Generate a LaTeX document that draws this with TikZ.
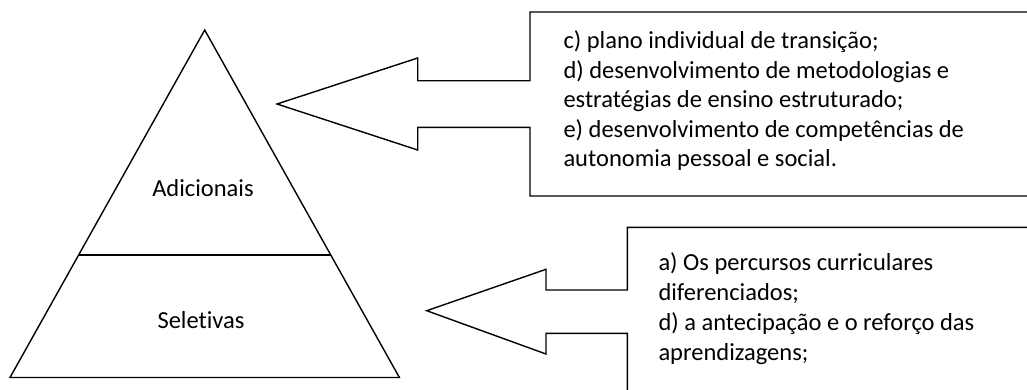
\documentclass[tikz,border=0pt]{standalone}
\usepackage{fontspec}
\setmainfont[Ligatures=NoCommon]{Carlito}
\usetikzlibrary{calc}
\begin{document}
\begin{tikzpicture}[x=1pt,y=-1pt,
  shapeline/.style={draw=black,line width=1.4pt,line join=miter},
  boxtext/.style={anchor=base west,inner sep=0pt,font=\fontsize{24.5}{29.5}\selectfont},
  pyrlabel/.style={anchor=base,inner sep=0pt,font=\fontsize{24.5}{29.5}\selectfont}]
\useasboundingbox (0,0) rectangle (1027,389);
\clip (0,0) rectangle (1027,389);
\fill[white] (0,0) rectangle (1027,389);
% pyramid
\coordinate (apex) at (204.7,30);
\coordinate (bl) at (10,377.5);
\coordinate (br) at (399.4,377.5);
\coordinate (ml) at ($(apex)!0.6475!(bl)$);
\coordinate (mr) at ($(apex)!0.6475!(br)$);
\draw[shapeline] (apex) -- (bl) -- (br) -- cycle;
\draw[shapeline] (ml) -- (mr);
\node[pyrlabel] (adic) at (203,196.5) {Adicionais};
\node[pyrlabel] (selet) at (201,328) {Seletivas};
% top callout
\draw[shapeline] (1040,12) -- (530,12) -- (530,80.7) -- (417.7,80.7) -- (417.7,58)
  -- (277,104) -- (417.7,150) -- (417.7,127.3) -- (530,127.3) -- (530,196) -- (1040,196);
\node[boxtext] (t1) at (563.3,48.3) {c) plano individual de transição;};
\node[boxtext] (t2) at (563.3,78.1) {d) desenvolvimento de metodologias e};
\node[boxtext] (t3) at (563.3,107.6) {estratégias de ensino estruturado;};
\node[boxtext] (t4) at (563.3,137.1) {e) desenvolvimento de competências de};
\node[boxtext] (t5) at (563.3,166.6) {autonomia pessoal e social.};
% bottom callout
\draw[shapeline] (1040,227.3) -- (627.3,227.3) -- (627.3,290) -- (546,290) -- (546,269.3)
  -- (426.7,310.7) -- (546,354) -- (546,333.3) -- (627.3,333.3) -- (627.3,400);
\node[boxtext] (b1) at (658.3,270) {a) Os percursos curriculares};
\node[boxtext] (b2) at (658.3,300) {diferenciados;};
\node[boxtext] (b3) at (658.3,330) {d) a antecipação e o reforço das};
\node[boxtext] (b4) at (658.3,360) {aprendizagens;};
\end{tikzpicture}
\end{document}
